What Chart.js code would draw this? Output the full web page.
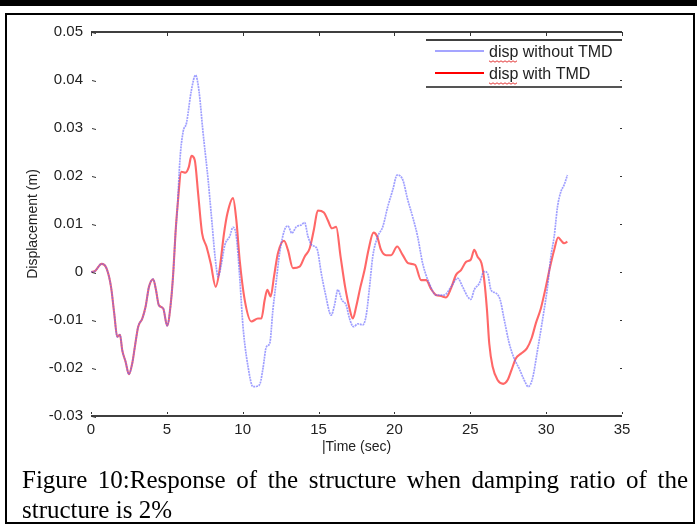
<!DOCTYPE html>
<html>
<head>
<meta charset="utf-8">
<script src="https://cdn.jsdelivr.net/npm/chart.js@4.4.0/dist/chart.umd.min.js"></script>
<style>
  body { margin: 0; background: #fff; }
  #wrap { position: relative; width: 697px; height: 526px; overflow: hidden; }
  .topbar { position: absolute; left: 0; top: 0; width: 697px; height: 6px; background: #000; }
  .frame { position: absolute; left: 5px; top: 13px; width: 690px; height: 511px; border: 2px solid #000; box-sizing: border-box; }
  #myChart { position: absolute; left: 0; top: 0; }
  .caption { position: absolute; left: 22px; top: 465px; width: 666px; font-family: 'Liberation Serif', 'Times New Roman', serif; font-size: 25px; line-height: 30px; color: #000; }
  .caption .l1 { text-align: justify; text-align-last: justify; white-space: nowrap; }
</style>
</head>
<body>
<div id="wrap">
  <div class="topbar"></div>
  <div class="frame"></div>
  <canvas id="myChart" width="697" height="526"></canvas>
  <div class="caption"><div class="l1">Figure 10:Response of the structure when damping ratio of the</div><div>structure is 2%</div></div>
</div>
<script>
// response without damper (sec / m)
const timeNoTmd = [0, 0.26, 0.70, 1.03, 1.32, 1.53, 1.73, 1.91, 2.06, 2.28, 2.50, 2.72, 2.89, 3.11, 3.38, 3.60, 3.82, 4.10, 4.28, 4.47, 4.76, 5.02, 5.26, 5.42, 5.57, 5.70,
  5.86, 6.07, 6.29, 6.62, 6.89, 7.11, 7.39, 7.72, 7.94, 8.20, 8.38, 8.60, 8.82, 9.14, 9.36, 9.58, 9.80, 10.02, 10.35, 10.68, 10.95, 11.15, 11.34, 11.56, 11.78, 11.99,
  12.22, 12.43, 12.76, 12.98, 13.24, 13.53, 13.86, 14.08, 14.30, 14.56, 14.89, 15.18, 15.44, 15.83, 16.05, 16.27, 16.53, 16.82, 17.04, 17.30, 17.59, 17.92, 18.14,
  18.36, 18.57, 18.90, 19.23, 19.56, 19.89, 20.18, 20.55, 20.88, 21.20, 21.53, 21.86, 22.30, 22.74, 23.29, 23.73, 24.17, 24.50, 24.82, 25.04, 25.26, 25.59, 25.92,
  26.14, 26.36, 26.69, 26.97, 27.24, 27.57, 27.89, 28.22, 28.55, 28.82, 29.10, 29.43, 29.76, 30.09, 30.31, 30.53, 30.75, 30.97, 31.18, 31.40];
const dispNoTmd = [0, 0.0002, 0.0017, 0.0007, -0.0031, -0.0086, -0.0135, -0.0131, -0.0163, -0.0187, -0.0213, -0.019, -0.0156, -0.0114, -0.0097, -0.0072, -0.0031, -0.0015, -0.0037, -0.0069, -0.0076, -0.0112, -0.0065, -0.0003, 0.0081, 0.0136,
  0.0233, 0.0292, 0.031, 0.0379, 0.041, 0.0379, 0.0289, 0.0192, 0.0115, 0.0025, -0.001, 0.0018, 0.0056, 0.0074, 0.0093, 0.0074, -0.001, -0.0114, -0.0197, -0.0239, -0.0238, -0.0232, -0.02, -0.0156, -0.0149, -0.0079,
  -0.0017, 0.0039, 0.0088, 0.0096, 0.0081, 0.0094, 0.0098, 0.0103, 0.0074, 0.0056, 0.0049, -0.0003, -0.0044, -0.009, -0.0069, -0.0037, -0.0058, -0.0069, -0.0097, -0.0114, -0.0108, -0.011, -0.009,
  -0.0031, 0.0032, 0.0074, 0.0094, 0.0136, 0.0171, 0.0202, 0.0192, 0.015, 0.0115, 0.0074, 0.0018, -0.0024, -0.0048, -0.0048, -0.0031, -0.0013, -0.0031, -0.0051, -0.0057, -0.0037, -0.0024, 0.0001,
  -0.0003, -0.0037, -0.0044, -0.0058, -0.01, -0.0149, -0.018, -0.0201, -0.0225, -0.0239, -0.0222, -0.0163, -0.01, -0.0031, 0.0032, 0.0074, 0.0136, 0.0167, 0.0181, 0.0202];

// response with TMD
const timeTmd = [0, 0.26, 0.70, 1.03, 1.32, 1.53, 1.73, 1.91, 2.06, 2.28, 2.50, 2.72, 2.89, 3.11, 3.38, 3.60, 3.82, 4.10, 4.28, 4.47, 4.76, 5.02, 5.26, 5.42, 5.57, 5.70,
  5.96, 6.23, 6.45, 6.62, 6.84, 7.06, 7.32, 7.61, 7.89, 8.22, 8.44, 8.77, 8.99, 9.36, 9.58, 9.80, 10.13, 10.57, 11.00, 11.23, 11.45, 11.62, 11.84, 12.06, 12.32,
  12.72, 12.98, 13.31, 13.75, 14.08, 14.41, 14.69, 14.95, 15.35, 15.61, 15.88, 16.16, 16.45, 16.75, 17.04, 17.26, 17.48, 17.76, 18.03, 18.29, 18.62, 18.86, 19.12,
  19.45, 19.78, 20.18, 20.55, 20.92, 21.36, 21.76, 22.09, 22.41, 22.74, 23.07, 23.40, 23.73, 24.06, 24.39, 24.72, 25.04, 25.26, 25.48, 25.74, 25.92, 26.10, 26.25,
  26.47, 26.80, 27.17, 27.46, 27.72, 28.00, 28.34, 28.73, 29.04, 29.32, 29.65, 29.98, 30.26, 30.53, 30.79, 31.00, 31.18, 31.40];
const dispTmd = [0, 0.0002, 0.0017, 0.0007, -0.0031, -0.0086, -0.0135, -0.0131, -0.0163, -0.0187, -0.0213, -0.019, -0.0156, -0.0114, -0.0097, -0.0072, -0.0031, -0.0015, -0.0037, -0.0069, -0.0076, -0.0112, -0.0065, -0.0003, 0.0081, 0.0136,
  0.0209, 0.0207, 0.0219, 0.0242, 0.0233, 0.0164, 0.0081, 0.0053, 0.0018, -0.0031, -0.0003, 0.0081, 0.0122, 0.0154, 0.0108, 0.0025, -0.0058, -0.0103, -0.0097, -0.0097, -0.0058, -0.0037, -0.0051, -0.001, 0.0039,
  0.0065, 0.0046, 0.0008, 0.0011, 0.0032, 0.0049, 0.0088, 0.0128, 0.0124, 0.0108, 0.0091, 0.0094, 0.0032, -0.0031, -0.0076, -0.0097, -0.0072, -0.0031, 0.0004, 0.0046, 0.0082, 0.0074, 0.0046,
  0.0035, 0.0035, 0.0053, 0.0035, 0.0018, 0.0015, -0.0017, -0.0017, -0.0035, -0.0048, -0.005, -0.0053, -0.0034, -0.0006, 0.0004, 0.0021, 0.0026, 0.0046, 0.0032, 0.0018, -0.0017, -0.0079, -0.0149,
  -0.0197, -0.0225, -0.0233, -0.0225, -0.0204, -0.018, -0.017, -0.0159, -0.0138, -0.0107, -0.0076, -0.0031, 0.0011, 0.0046, 0.0072, 0.0065, 0.006, 0.0063];

const seriesNames = ['disp without TMD', 'disp with TMD'];
const xTickStep = 5;
const yTickStep = 0.01;

const toPoints = (ts, vs) => ts.map((t, i) => ({ x: t, y: vs[i] }));

const blue = 'rgba(100,100,255,0.62)';
const red = 'rgba(255,45,45,0.72)';
const axisFont = '"Liberation Sans", Arial, sans-serif';

// box axes with inward ticks and a boxed legend, drawn by hand
const matlabAxes = {
  id: 'matlabAxes',
  afterDatasetsDraw(chart) {
    const { ctx, chartArea: a, scales: { x, y } } = chart;
    ctx.save();
    ctx.setLineDash([]);
    ctx.strokeStyle = '#000';
    ctx.lineWidth = 1.5;
    ctx.beginPath();
    ctx.moveTo(a.left, a.top); ctx.lineTo(a.right, a.top);
    ctx.moveTo(a.left, a.bottom); ctx.lineTo(a.right, a.bottom);
    ctx.stroke();

    ctx.lineWidth = 1;
    ctx.strokeStyle = '#333';
    ctx.beginPath();
    y.ticks.forEach(t => {
      const py = Math.round(y.getPixelForValue(t.value)) + 0.5;
      ctx.moveTo(a.left + 1, py); ctx.lineTo(a.left + 5, py + 1);
      ctx.moveTo(a.right - 2, py); ctx.lineTo(a.right, py);
    });
    x.ticks.forEach(t => {
      const px = Math.round(x.getPixelForValue(t.value)) + 0.5;
      ctx.moveTo(px, a.top); ctx.lineTo(px, a.top + 4);
      ctx.moveTo(px, a.bottom - 4); ctx.lineTo(px, a.bottom - 2);
    });
    ctx.stroke();

    // legend
    const lx0 = a.right - 196, lx1 = a.right;
    ctx.strokeStyle = '#000';
    ctx.lineWidth = 1.5;
    ctx.beginPath();
    ctx.moveTo(lx0, a.top + 8); ctx.lineTo(lx1, a.top + 8);
    ctx.stroke();
    ctx.strokeStyle = '#555';
    ctx.lineWidth = 2;
    ctx.beginPath();
    ctx.moveTo(lx0, a.top + 55); ctx.lineTo(lx1, a.top + 55);
    ctx.stroke();

    const rows = [
      { y: a.top + 19, color: 'rgb(165,165,255)', label: seriesNames[0] },
      { y: a.top + 41, color: 'rgb(255,0,0)', label: seriesNames[1] }
    ];
    ctx.font = '16px ' + axisFont;
    ctx.textBaseline = 'middle';
    rows.forEach(r => {
      ctx.strokeStyle = r.color;
      ctx.lineWidth = 2;
      ctx.beginPath();
      ctx.moveTo(lx0 + 9, r.y); ctx.lineTo(lx0 + 58, r.y);
      ctx.stroke();
      ctx.fillStyle = '#222';
      ctx.fillText(r.label, lx0 + 63, r.y + 2);
      // squiggle under "disp"
      const w = ctx.measureText('disp').width;
      ctx.strokeStyle = '#e02020';
      ctx.lineWidth = 0.9;
      ctx.beginPath();
      for (let i = 0; i <= w; i += 2) {
        const sy = r.y + 10 + ((i / 2) % 2 ? 1.2 : -0.2);
        if (i === 0) ctx.moveTo(lx0 + 63 + i, sy); else ctx.lineTo(lx0 + 63 + i, sy);
      }
      ctx.stroke();
    });
    ctx.restore();
  }
};

const config = {
  type: 'line',
  data: {
    datasets: [
      {
        label: seriesNames[0],
        data: toPoints(timeNoTmd, dispNoTmd),
        borderColor: blue,
        borderWidth: 1.7,
        borderDash: [2, 0.8],
        pointRadius: 0,
        cubicInterpolationMode: 'monotone'
      },
      {
        label: seriesNames[1],
        data: toPoints(timeTmd, dispTmd),
        borderColor: red,
        borderWidth: 2.1,
        pointRadius: 0,
        cubicInterpolationMode: 'monotone'
      }
    ]
  },
  options: {
    responsive: false,
    animation: false,
    devicePixelRatio: 1,
    layout: { padding: { left: 0, top: 32, right: 75, bottom: 0 } },
    plugins: { legend: { display: false }, tooltip: { enabled: false } },
    scales: {
      x: {
        type: 'linear',
        min: 0,
        max: 35,
        afterFit(scale) { scale.height = 110; },
        grid: { display: false, drawTicks: false },
        border: { display: false },
        ticks: {
          stepSize: xTickStep,
          padding: 5,
          color: '#222',
          font: { family: axisFont, size: 15 },
          maxRotation: 0
        },
        title: {
          display: true,
          text: '|Time (sec)',
          color: '#222',
          font: { family: axisFont, size: 14 },
          padding: { top: 0, bottom: 70 }
        }
      },
      y: {
        min: -0.03,
        max: 0.05,
        afterFit(scale) { scale.width = 91; },
        grid: { display: false, drawTicks: false },
        border: { display: false },
        ticks: {
          stepSize: yTickStep,
          padding: 8,
          color: '#222',
          font: { family: axisFont, size: 15 },
          callback: v => String(+v.toFixed(2))
        },
        title: {
          display: true,
          text: 'Displacement (m)',
          color: '#222',
          font: { family: axisFont, size: 14 },
          padding: { top: 25, bottom: 0 }
        }
      }
    }
  },
  plugins: [matlabAxes]
};

const myChart = new Chart(document.getElementById('myChart'), config);
</script>
</body>
</html>
